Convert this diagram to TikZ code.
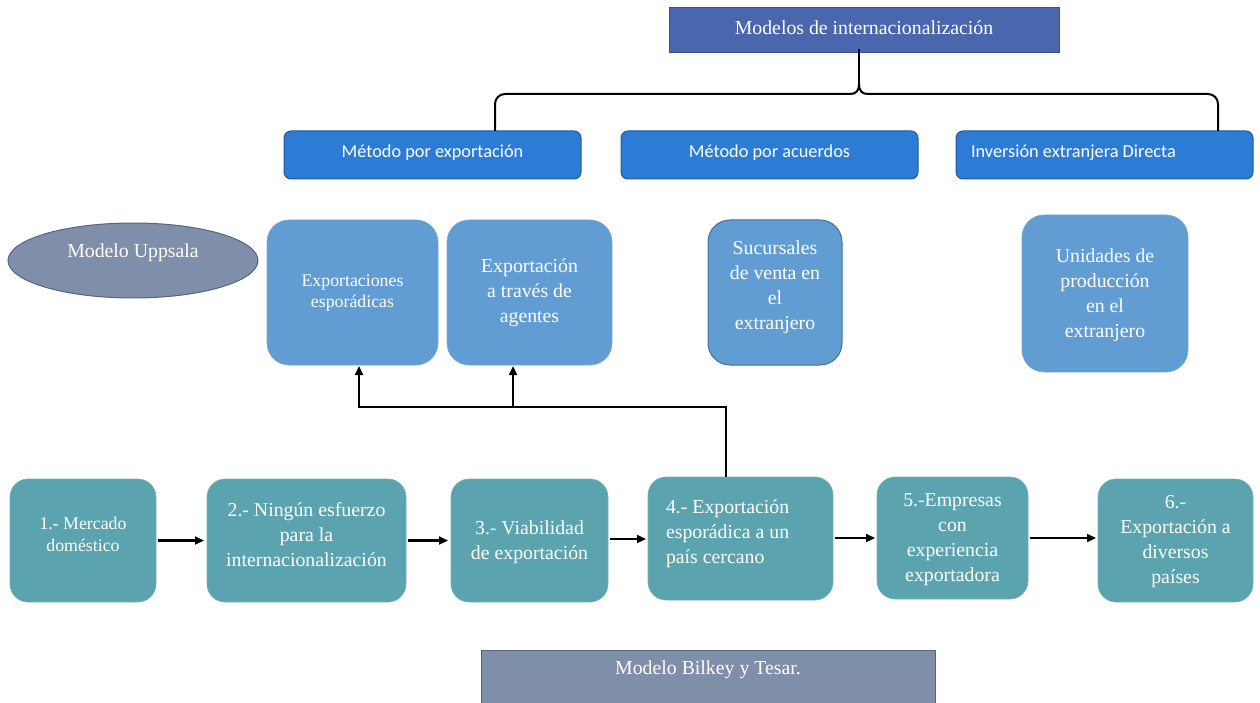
\documentclass[tikz,border=0pt]{standalone}
\usepackage{fontspec}
\setmainfont{Liberation Serif}
\newfontfamily\calfont{Carlito}
\usetikzlibrary{arrows.meta,shapes.geometric}
\definecolor{topblue}{HTML}{4A66AC}
\definecolor{topborder}{HTML}{34508F}
\definecolor{midblue}{HTML}{2C7CD5}
\definecolor{midborder}{HTML}{1F5A9E}
\definecolor{lightblue}{HTML}{619DD2}
\definecolor{lbborder}{HTML}{41719C}
\definecolor{greyblue}{HTML}{7F8FA9}
\definecolor{gbborder}{HTML}{56657F}
\definecolor{tealbox}{HTML}{5BA3AF}
\begin{document}
\begin{tikzpicture}[x=1pt,y=-1pt,
  every node/.style={inner sep=0pt,outer sep=0pt},
  topbox/.style={draw=topborder,line width=1pt,fill=topblue},
  methbox/.style={draw=midborder,line width=1pt,fill=midblue,rounded corners=7pt},
  lbox/.style={fill=lightblue,draw=lightblue!90!white,line width=0.6pt,rounded corners=22pt},
  lboxd/.style={fill=lightblue,draw=lbborder,line width=1pt,rounded corners=22pt},
  tbox/.style={fill=tealbox,draw=tealbox!85!white,line width=0.6pt,rounded corners=18pt},
  gbox/.style={fill=greyblue,draw=gbborder,line width=1pt},
  big/.style={text=white,align=center,font=\fontsize{19.8}{25}\selectfont},
  small/.style={text=white,align=center,font=\fontsize{17.8}{21.5}\selectfont},
  sans/.style={text=white,font=\calfont\fontsize{18.3}{20}\selectfont},
  conn/.style={line width=2.2pt,black},
  arr/.style={conn,-{Triangle[length=9pt,width=8pt]}},
  bracel/.style={line width=2pt,black}]
\useasboundingbox (0,0) rectangle (1260,703);

% top
\node[topbox,minimum width=390pt,minimum height=45pt] (top) at (864,30.5) {};
\node[big] (topt) at (864,28) {Modelos de internacionalización};

% method boxes
\node[methbox,minimum width=297pt,minimum height=48pt] (s1) at (432.5,155) {};
\node[methbox,minimum width=297pt,minimum height=48pt] (s2) at (769.5,155) {};
\node[methbox,minimum width=297pt,minimum height=48pt] (s3) at (1104.5,155) {};
\node[sans] (s1t) at (432.5,153) {Método por exportación};
\node[sans] (s2t) at (769.5,153) {Método por acuerdos};
\node[sans,anchor=west] (s3t) at (971,153) {Inversión extranjera Directa};

% brace
\coordinate (bl) at (495,94);
\coordinate (br) at (1218,94);
\coordinate (bt) at (859,84);
\draw[bracel,rounded corners=10pt] (s1.north -| bl) -- (bl) -- (850,94);
\draw[bracel] (850,94) .. controls (856,94) and (859,91) .. (bt);
\draw[bracel] (bt) -- ([yshift=4pt]top.south -| bt);
\draw[bracel] (bt) .. controls (859,91) and (862,94) .. (868,94);
\draw[bracel,rounded corners=10pt] (868,94) -- (br) -- (s3.north -| br);

% Uppsala
\node[ellipse,fill=greyblue,draw=gbborder,line width=1pt,minimum width=250pt,minimum height=75pt] (upp) at (133,260.5) {};
\node[big] (uppt) at (133,253) {Modelo Uppsala};

% light boxes
\node[lbox,minimum width=171pt,minimum height=145pt] (e1) at (352.5,292.5) {};
\node[small] (e1t) at (352.5,293) {Exportaciones\\esporádicas};
\node[lbox,minimum width=165pt,minimum height=145pt] (e2) at (529.5,292.5) {};
\node[big] (e2t) at (529.5,293) {Exportación\\a través de\\agentes};
\node[lboxd,minimum width=134pt,minimum height=145pt] (e3) at (775,292.5) {};
\node[big] (e3t) at (775,287) {Sucursales\\de venta en\\el\\extranjero};
\node[lbox,minimum width=166pt,minimum height=157pt] (e4) at (1105,293.5) {};
\node[big] (e4t) at (1105,295) {Unidades de\\producción\\en el\\extranjero};

% teal boxes
\node[tbox,minimum width=146pt,minimum height=123pt] (b1) at (83,540.5) {};
\node[small] (b1t) at (83,534.5) {1.- Mercado\\doméstico};
\node[tbox,minimum width=199pt,minimum height=123pt] (b2) at (306.5,540.5) {};
\node[big] (b2t) at (306.5,535) {2.- Ningún esfuerzo\\para la\\internacionalización};
\node[tbox,minimum width=157pt,minimum height=123pt] (b3) at (529.5,540.5) {};
\node[big] (b3t) at (529.5,542) {3.- Viabilidad\\de exportación};
\node[tbox,minimum width=185pt,minimum height=123pt] (b4) at (740.5,538.5) {};
\node[big,align=left,anchor=west] (b4t) at (666,534) {4.- Exportación\\esporádica a un\\país cercano};
\node[tbox,minimum width=151pt,minimum height=122pt] (b5) at (952.5,538) {};
\node[big] (b5t) at (952.5,540) {5.-Empresas\\con\\experiencia\\exportadora};
\node[tbox,minimum width=155pt,minimum height=123pt] (b6) at (1175.5,540.5) {};
\node[big] (b6t) at (1175.5,542) {6.-\\Exportación a\\diversos\\países};

% bottom arrows
\draw[arr,shorten <=2pt,shorten >=3pt] (b1.east) -- (b2.west);
\draw[arr,shorten <=2pt,shorten >=3pt] (b2.east) -- (b3.west);
\draw[arr,shorten <=2pt,shorten >=2pt] (b3.east |- 0,539) -- (b4.west |- 0,539);
\draw[arr,shorten <=2pt,shorten >=2pt] (b4.east |- 0,538) -- (b5.west |- 0,538);
\draw[arr,shorten <=2pt,shorten >=2pt] (b5.east |- 0,538) -- (b6.west |- 0,538);

% up arrows
\coordinate (jr) at (726,407);
\coordinate (jl) at (359,407);
\coordinate (jm) at (513,407);
\draw[conn] (b4.north -| jr) -- (jr) -- ([xshift=-1.1pt]jl);
\draw[arr,shorten >=1pt] (jl) -- (jl |- e1.south);
\draw[arr,shorten >=1pt] (jm) -- (jm |- e2.south);

% Bilkey
\node[gbox,minimum width=454pt,minimum height=62pt] (bil) at (708,681) {};
\node[big] (bilt) at (708,670) {Modelo Bilkey y Tesar.};
\end{tikzpicture}
\end{document}
